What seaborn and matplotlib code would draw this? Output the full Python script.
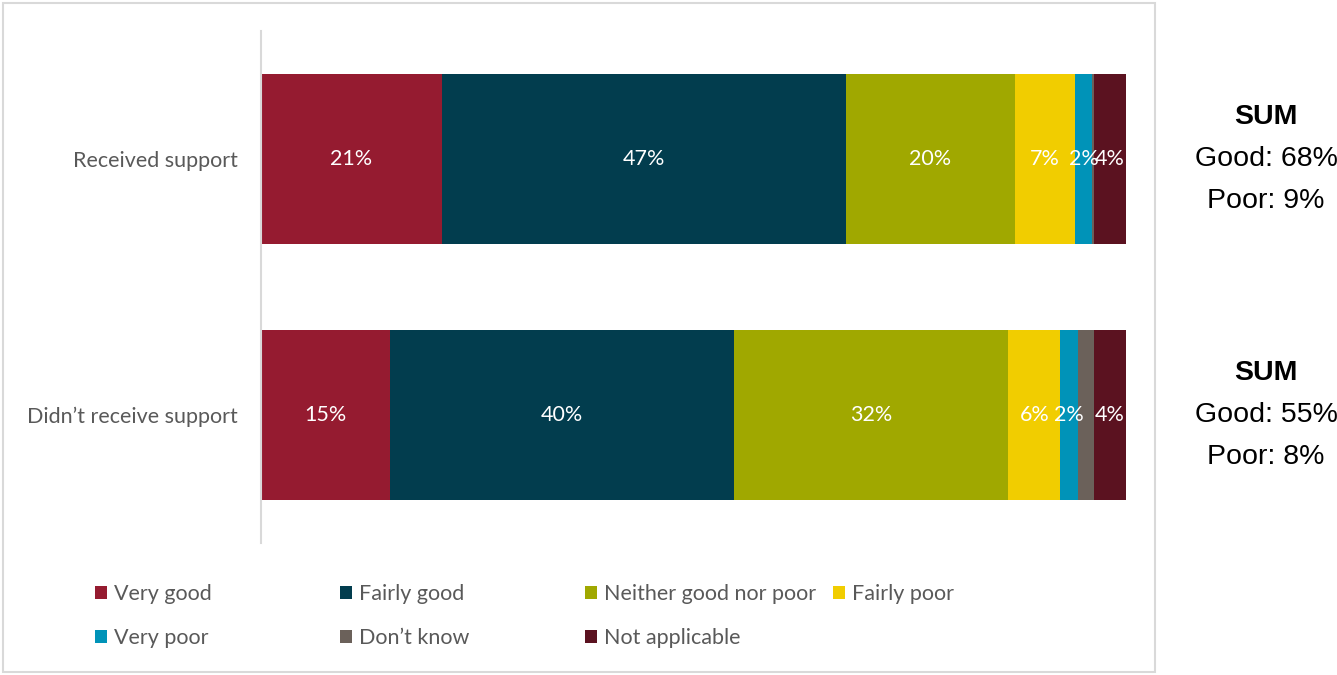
import matplotlib
matplotlib.use("Agg")
import matplotlib.pyplot as plt
from matplotlib.patches import Patch, Rectangle
import numpy as np
import pandas as pd
import seaborn as sns

# Survey answers (share of respondents, %)
categories = ["Received support", "Didn\u2019t receive support"]
series_names = ["Very good", "Fairly good", "Neither good nor poor", "Fairly poor",
                "Very poor", "Don\u2019t know", "Not applicable"]
very_good = [20.9, 14.9]
fairly_good = [46.7, 39.8]
neither = [19.6, 31.7]
fairly_poor = [6.9, 6.0]
very_poor = [2.0, 2.1]
dont_know = [0.2, 1.8]
not_applicable = [3.7, 3.7]

colors = ["#951B30", "#023D4E", "#A0A800", "#F1CD00", "#0093B8", "#6B615A", "#5B1220"]
text_gray = "#595959"

sns.set_theme(style="white")
plt.rcParams["font.family"] = ["Lato", "DejaVu Sans"]

values = [very_good, fairly_good, neither, fairly_poor, very_poor, dont_know, not_applicable]
df = pd.DataFrame({name: v for name, v in zip(series_names, values)}, index=categories)
cum = df.cumsum(axis=1)

fig = plt.figure(figsize=(13.37, 6.75), dpi=100)
ax = fig.add_axes([261 / 1337, 1 - 543 / 675, 865 / 1337, 512 / 675])

# Stacked bars: draw cumulative totals from the outermost segment inwards
for i in range(len(series_names) - 1, -1, -1):
    name = series_names[i]
    sns.barplot(x=cum[name].values, y=categories, orient="h", color=colors[i],
                width=0.664, saturation=1, ax=ax, linewidth=0)

# Segment value labels
for i, name in enumerate(series_names):
    if name == "Don\u2019t know":
        continue
    for j, cat in enumerate(categories):
        v = df.loc[cat, name]
        left = cum.loc[cat, name] - v
        ax.text(left + v / 2, j, f"{round(v)}%", ha="center", va="center",
                color="white", fontsize=15.5)

ax.set_xlim(0, cum.iloc[:, -1].max())
ax.set_ylim(1.5, -0.5)
ax.set_xlabel("")
ax.set_ylabel("")
ax.set_xticks([])
for s in ["top", "right", "bottom"]:
    ax.spines[s].set_visible(False)
ax.spines["left"].set_color("#d9d9d9")
ax.spines["left"].set_linewidth(1.5)
ax.tick_params(axis="y", length=0, pad=17, labelsize=15.5, labelcolor=text_gray)

# Legend: one entry per slot on a fixed grid
legend_x = [95, 340, 585, 833]
legend_y = [594, 638]
slots = [(0, 0), (1, 0), (2, 0), (3, 0), (0, 1), (1, 1), (2, 1)]
for (cx, ry), name, c in zip(slots, series_names, colors):
    fig.legend(handles=[Patch(facecolor=c, edgecolor="none", label=name)],
               loc="center left",
               bbox_to_anchor=(legend_x[cx] / 1337, 1 - legend_y[ry] / 675),
               frameon=False, fontsize=15.5, labelcolor=text_gray,
               handlelength=0.55, handleheight=0.55, handletextpad=0.35,
               borderpad=0, borderaxespad=0)

# Chart frame
fig.patches.append(Rectangle((3 / 1337, 3 / 675), 1152 / 1337, 669 / 675,
                             transform=fig.transFigure, fill=False,
                             edgecolor="#d9d9d9", linewidth=1.5))

# Good / poor totals beside each bar
sum_font = ["Liberation Sans", "DejaVu Sans"]
for j, cat in enumerate(categories):
    good = round(df.loc[cat, "Very good"] + df.loc[cat, "Fairly good"])
    poor = round(df.loc[cat, "Fairly poor"] + df.loc[cat, "Very poor"])
    yc = 1 - (159 + 256 * j) / 675
    dy = 42 / 675
    fig.text(1266 / 1337, yc + dy, "SUM", ha="center", va="center",
             fontsize=20.5, fontweight="bold", family=sum_font, color="black")
    fig.text(1266 / 1337, yc, f"Good: {good}%", ha="center", va="center",
             fontsize=20.5, family=sum_font, color="black")
    fig.text(1266 / 1337, yc - dy, f"Poor: {poor}%", ha="center", va="center",
             fontsize=20.5, family=sum_font, color="black")

fig.savefig("out.png", dpi=100, facecolor="white")
